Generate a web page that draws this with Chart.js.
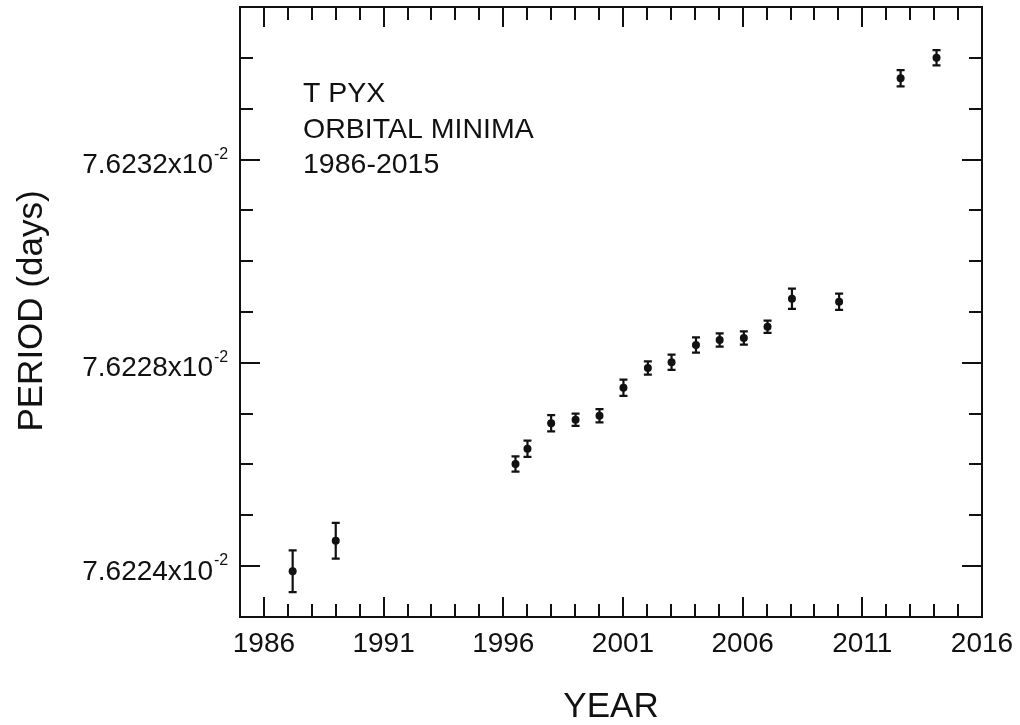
<!DOCTYPE html>
<html>
<head>
<meta charset="utf-8">
<script src="https://cdn.jsdelivr.net/npm/chart.js@4.4.0/dist/chart.umd.min.js"></script>
<style>
  html, body { margin: 0; padding: 0; background: #fff; }
  #wrap { width: 1020px; height: 725px; }
</style>
</head>
<body>
<div id="wrap"><canvas id="periodChart" width="1020" height="725"></canvas></div>
<script>
// T Pyx orbital period measurements (period in units of 10^-2 days)
const years = [1987.2, 1989.0, 1996.51, 1997.01, 1998.0, 1999.02, 2000.02, 2001.02, 2002.04,
  2003.03, 2004.05, 2005.04, 2006.05, 2007.04, 2008.06, 2010.03, 2012.6, 2014.1];
const periods = [7.62239, 7.62245, 7.622601, 7.622631, 7.622681, 7.622688, 7.622696, 7.622751, 7.62279,
  7.622801, 7.622835, 7.622845, 7.622849, 7.622871, 7.622926, 7.62292, 7.62336, 7.6234];
const periodErrors = [0.000041, 0.000035, 0.000015, 0.000016, 0.000016, 0.000012, 0.000013, 0.000016, 0.000013,
  0.000015, 0.000015, 0.000013, 0.000013, 0.000012, 0.00002, 0.000016, 0.000016, 0.000015];

const xMin = 1985, xMax = 2016;
const xMajorTicks = [1986, 1991, 1996, 2001, 2006, 2011, 2016];
const yMin = 7.6223, yMax = 7.6235;
const yMajorTicks = [7.6224, 7.6228, 7.6232];
const noteLines = ['T PYX', 'ORBITAL MINIMA', '1986-2015'];

const FONT = '"Liberation Sans", Arial, Helvetica, sans-serif';
const INK = '#111';

const framePlugin = {
  id: 'frame',
  beforeDatasetsDraw(chart) {
    const { ctx, chartArea: a, scales: { x, y } } = chart;
    ctx.save();
    ctx.strokeStyle = INK;
    ctx.lineWidth = 2;
    ctx.strokeRect(a.left, a.top, a.right - a.left, a.bottom - a.top);

    // x ticks every year, pointing inward on bottom and top
    ctx.beginPath();
    for (let yr = xMin + 1; yr < xMax; yr++) {
      const px = Math.round(x.getPixelForValue(yr));
      const len = xMajorTicks.includes(yr) ? 20 : 13;
      ctx.moveTo(px, a.bottom); ctx.lineTo(px, a.bottom - len);
      ctx.moveTo(px, a.top); ctx.lineTo(px, a.top + len);
    }
    // y ticks every 0.0001, pointing inward on left and right
    for (let k = 76224; k < 76235; k++) {
      const v = k / 10000;
      const py = Math.round(y.getPixelForValue(v));
      const len = yMajorTicks.some(m => Math.abs(m - v) < 1e-9) ? 20 : 13;
      ctx.moveTo(a.left, py); ctx.lineTo(a.left + len, py);
      ctx.moveTo(a.right, py); ctx.lineTo(a.right - len, py);
    }
    ctx.stroke();

    // error bars
    ctx.lineWidth = 2.2;
    ctx.beginPath();
    years.forEach((yr, i) => {
      const px = x.getPixelForValue(yr);
      const top = y.getPixelForValue(periods[i] + periodErrors[i]);
      const bot = y.getPixelForValue(periods[i] - periodErrors[i]);
      ctx.moveTo(px, top); ctx.lineTo(px, bot);
      ctx.moveTo(px - 4, top); ctx.lineTo(px + 4, top);
      ctx.moveTo(px - 4, bot); ctx.lineTo(px + 4, bot);
    });
    ctx.stroke();
    ctx.restore();
  },
  afterDraw(chart) {
    const { ctx, chartArea: a, scales: { x, y } } = chart;
    ctx.save();
    ctx.fillStyle = INK;

    // x tick labels
    ctx.font = `28px ${FONT}`;
    ctx.textAlign = 'center';
    ctx.textBaseline = 'alphabetic';
    xMajorTicks.forEach(yr => {
      ctx.fillText(String(yr), x.getPixelForValue(yr), a.bottom + 35);
    });

    // y tick labels with superscript exponent
    yMajorTicks.forEach(v => {
      const py = y.getPixelForValue(v);
      ctx.font = `28px ${FONT}`;
      ctx.textAlign = 'right';
      ctx.fillText(v.toFixed(4) + 'x10', 213, py + 13.5);
      ctx.font = `16px ${FONT}`;
      ctx.textAlign = 'left';
      ctx.fillText('-2', 214, py - 1);
    });

    // axis titles
    ctx.font = `35px ${FONT}`;
    ctx.textAlign = 'center';
    ctx.fillText('YEAR', (a.left + a.right) / 2, 717);
    ctx.save();
    ctx.translate(42, 311);
    ctx.rotate(-Math.PI / 2);
    ctx.fillText('PERIOD (days)', 0, 0);
    ctx.restore();

    // annotation
    ctx.font = `28.5px ${FONT}`;
    ctx.textAlign = 'left';
    noteLines.forEach((line, i) => ctx.fillText(line, 303, 102 + i * 35.5));
    ctx.restore();
  }
};

new Chart(document.getElementById('periodChart'), {
  type: 'scatter',
  data: {
    datasets: [{
      data: years.map((yr, i) => ({ x: yr, y: periods[i] })),
      backgroundColor: INK,
      borderWidth: 0,
      pointRadius: 4,
      pointHoverRadius: 4
    }]
  },
  options: {
    responsive: false,
    animation: false,
    layout: { padding: { top: 7, right: 38, left: 0, bottom: 0 } },
    plugins: { legend: { display: false }, tooltip: { enabled: false } },
    scales: {
      x: {
        type: 'linear', min: xMin, max: xMax,
        ticks: { display: false },
        grid: { display: false },
        border: { display: false },
        afterFit: s => { s.height = 108; }
      },
      y: {
        type: 'linear', min: yMin, max: yMax,
        ticks: { display: false },
        grid: { display: false },
        border: { display: false },
        afterFit: s => { s.width = 240; }
      }
    }
  },
  plugins: [framePlugin]
});
</script>
</body>
</html>
